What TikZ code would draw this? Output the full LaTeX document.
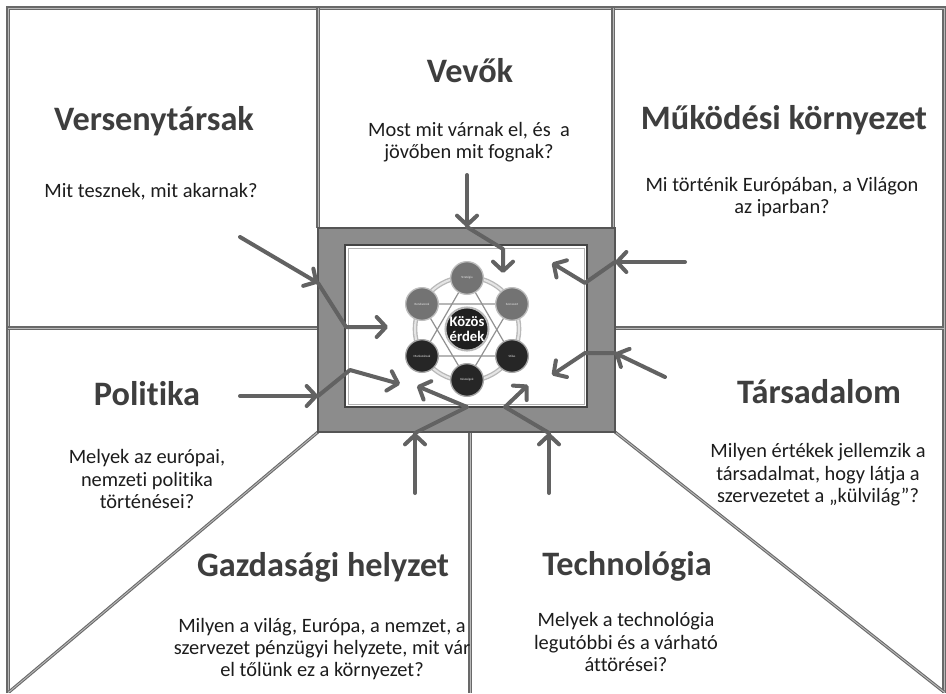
\documentclass[tikz,border=0pt]{standalone}
\usepackage{fontspec}
\setmainfont{Carlito}[Ligatures=NoCommon]
\usetikzlibrary{arrows.meta}

\definecolor{linegray}{RGB}{105,105,105}
\definecolor{linelight}{RGB}{185,185,185}
\definecolor{framegray}{RGB}{140,140,140}
\definecolor{frameedge}{RGB}{85,85,85}
\definecolor{arrowgray}{RGB}{98,98,98}
\definecolor{headgray}{RGB}{62,62,62}
\definecolor{bodygray}{RGB}{28,28,28}
\definecolor{ballgray}{RGB}{115,115,115}
\definecolor{balldark}{RGB}{38,38,38}
\definecolor{ringgray}{RGB}{190,190,190}
\definecolor{spokegray}{RGB}{145,145,145}

\begin{document}
\begin{tikzpicture}[x=0.75pt, y=-0.75pt,
  panel/.style={draw=linegray, line width=0.8pt, double=linelight, double distance=0.7pt},
  flow/.style={draw=arrowgray, line width=3pt, line cap=round, line join=round},
  tipped/.style={flow, -{Straight Barb[length=7pt,width=15pt,round]}},
  heading/.style={text=headgray, font=\fontsize{25.7}{30}\selectfont\bfseries, align=center, inner sep=0pt},
  body/.style={text=bodygray, font=\fontsize{15.3}{16.8}\selectfont, align=center, inner sep=0pt},
  lightball/.style={circle, minimum size=24.5pt, inner sep=0pt, fill=ballgray, draw=ringgray, line width=1pt,
    text=white!90!black, font=\fontsize{2.4}{2.8}\selectfont},
  darkball/.style={lightball, fill=balldark, draw=gray!70},
  core/.style={circle, minimum size=32pt, inner sep=0pt, fill=black!88, draw=gray!55, line width=1.5pt,
    text=white, align=center, font=\fontsize{11}{11.5}\selectfont\bfseries}]

% canvas
\useasboundingbox (0,0) rectangle (946,693);
\fill[white] (0,0) rectangle (946,693);

% outer frame and panel dividers
\draw[panel] (8,693) -- (8,8) -- (944,8) -- (944,693);
\draw[panel] (318,8) -- (318,228);
\draw[panel] (613,8) -- (613,228);
\draw[panel] (8,328) -- (318,328);
\draw[panel] (615,328) -- (944,328);
\draw[panel] (318,432) -- (9,692);
\draw[panel] (615,432) -- (944,692);
\draw[panel] (470,433) -- (470,693);

% central picture frame
\draw[fill=framegray, draw=frameedge, line width=1pt] (318,228) rectangle (615,432);
\draw[fill=white, draw=frameedge!80!black, line width=1.2pt] (345,245) rectangle (587,407);
\draw[draw=gray!60, line width=0.6pt] (348,248) rectangle (584,404);

% panel texts
\node[heading] (t-vers) at (154,121) {Versenytársak};
\node[body]    (q-vers) at (151,192) {Mit tesznek, mit akarnak?};
\node[heading] (t-vevo) at (470,71) {Vevők};
\node[body]    (q-vevo) at (469,142) {Most mit várnak el, és\ \ a\\jövőben mit fognak?};
\node[heading] (t-mukd) at (784,120) {Működési környezet};
\node[body]    (q-mukd) at (782,197) {Mi történik Európában, a Világon\\az iparban?};
\node[heading] (t-poli) at (147,394) {Politika};
\node[body]    (q-poli) at (147,479) {Melyek az európai,\\nemzeti politika\\történései?};
\node[heading] (t-tars) at (819,392) {Társadalom};
\node[body]    (q-tars) at (818,475) {Milyen értékek jellemzik a\\társadalmat, hogy látja a\\szervezetet a „külvilág”?};
\node[heading] (t-gazd) at (323,567) {Gazdasági helyzet};
\node[body]    (q-gazd) at (322,649) {Milyen a világ, Európa, a nemzet, a\\szervezet pénzügyi helyzete, mit vár\\el tőlünk ez a környezet?};
\node[heading] (t-tech) at (627,566) {Technológia};
\node[body]    (q-tech) at (626,642) {Melyek a technológia\\legutóbbi és a várható\\áttörései?};

% the seven-element wheel
\coordinate (hub) at (467,329);
\draw[draw=gray!55, line width=3.5pt] (hub) circle[radius=52];
\draw[draw=gray!20, line width=1.5pt] (hub) circle[radius=52];
\coordinate (p-top) at (467,278);
\coordinate (p-tr)  at (512,304);
\coordinate (p-br)  at (512,356);
\coordinate (p-bot) at (467,380);
\coordinate (p-bl)  at (422,356);
\coordinate (p-tl)  at (422,304);
\draw[spokegray, line width=0.9pt] (p-top) -- (p-bl) -- (p-br) -- cycle;
\draw[spokegray, line width=0.9pt] (p-bot) -- (p-tl) -- (p-tr) -- cycle;
\node[lightball] (s-top) at (p-top) {Stratégia};
\node[lightball] (s-tr)  at (p-tr)  {Szervezet};
\node[darkball]  (s-br)  at (p-br)  {Stílus};
\node[darkball]  (s-bot) at (p-bot) {Készségek};
\node[darkball]  (s-bl)  at (p-bl)  {Munkatársak};
\node[lightball] (s-tl)  at (p-tl)  {Rendszerek};
\node[core]      (s-hub) at (hub)   {Közös\\érdek};

% influence arrows: outside to the frame, then across it into the picture
\coordinate (a-out) at (467,175); \coordinate (a-in) at (467,227);
\coordinate (a-mid) at (503,249); \coordinate (a-end) at (503,273);
\draw[tipped] (a-out) -- (a-in);
\draw[tipped] (a-in) -- (a-mid) -- (a-end);

\coordinate (b-out) at (240,237); \coordinate (b-in) at (318,283);
\coordinate (b-mid) at (346,327); \coordinate (b-end) at (388,327);
\draw[tipped] (b-out) -- (b-in);
\draw[tipped] (b-in) -- (b-mid) -- (b-end);

\coordinate (c-out) at (240,396); \coordinate (c-in) at (318,396);
\coordinate (c-mid) at (350,370); \coordinate (c-end) at (400,384);
\draw[tipped] (c-out) -- (c-in);
\draw[tipped] (c-in) -- (c-mid) -- (c-end);

\coordinate (d-out) at (415,493); \coordinate (d-in) at (415,433);
\coordinate (d-mid) at (467,407); \coordinate (d-end) at (417,386);
\draw[tipped] (d-out) -- (d-in);
\draw[tipped] (d-in) -- (d-mid) -- (d-end);

\coordinate (e-out) at (549,493); \coordinate (e-in) at (549,433);
\coordinate (e-mid) at (505,407); \coordinate (e-end) at (528,385);
\draw[tipped] (e-out) -- (e-in);
\draw[tipped] (e-in) -- (e-mid) -- (e-end);

\coordinate (f-out) at (665,377); \coordinate (f-in) at (615,353);
\coordinate (f-mid) at (585,353); \coordinate (f-end) at (552,375);
\draw[tipped] (f-out) -- (f-in);
\draw[tipped] (f-in) -- (f-mid) -- (f-end);

\coordinate (g-out) at (685,262); \coordinate (g-in) at (615,262);
\coordinate (g-mid) at (585,283); \coordinate (g-end) at (552,263);
\draw[tipped] (g-out) -- (g-in);
\draw[tipped] (g-in) -- (g-mid) -- (g-end);

\end{tikzpicture}
\end{document}
